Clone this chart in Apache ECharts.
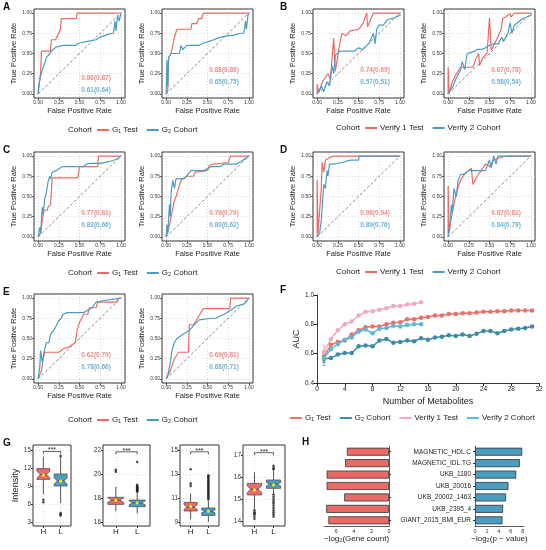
<!DOCTYPE html>
<html>
<head>
<meta charset="utf-8">
<script src="https://cdn.jsdelivr.net/npm/echarts@6/dist/echarts.min.js"></script>
<style>
html, body { margin: 0; padding: 0; background: #fff; }
#chart { width: 546px; height: 550px; }
</style>
</head>
<body>
<div id="chart"></div>
<script>
// ROC axes
const rocTicks = [0, 0.25, 0.5, 0.75, 1];
const diagonal = [[0, 0], [1, 1]];

// ROC curves [fpr, tpr]
const rocA1Red = [[0,0],[0.03,0.27],[0.04,0.53],[0.15,0.53],[0.16,0.67],[0.21,0.67],[0.24,0.73],[0.27,0.8],[0.28,0.93],[0.46,0.93],[0.47,1],[1,1]];
const rocA1Blue = [[0,0],[0.01,0.12],[0.03,0.22],[0.05,0.3],[0.08,0.38],[0.1,0.45],[0.14,0.5],[0.18,0.55],[0.22,0.58],[0.3,0.6],[0.45,0.6],[0.5,0.63],[0.6,0.65],[0.7,0.67],[0.75,0.7],[0.85,0.74],[0.91,0.75],[0.93,0.9],[0.94,0.78],[0.96,0.97],[0.98,0.9],[1,1]];
const rocA2Red = [[0,0],[0.02,0.05],[0.03,0.45],[0.06,0.5],[0.08,0.6],[0.1,0.7],[0.13,0.8],[0.3,0.8],[0.31,0.87],[0.37,0.87],[0.39,0.93],[0.43,0.93],[0.45,1],[1,1]];
const rocA2Blue = [[0,0],[0.01,0],[0.01,0.42],[0.02,0.1],[0.03,0.45],[0.06,0.5],[0.16,0.5],[0.18,0.6],[0.2,0.55],[0.25,0.6],[0.4,0.6],[0.45,0.63],[0.55,0.66],[0.65,0.7],[0.75,0.72],[0.8,0.72],[0.9,0.75],[0.94,0.75],[0.96,0.9],[0.97,0.8],[0.99,0.98],[1,1]];
const rocB1Red = [[0,0],[0,0.12],[0.02,0.02],[0.07,0.16],[0.13,0.25],[0.16,0.18],[0.2,0.69],[0.22,0.28],[0.27,0.6],[0.3,0.75],[0.35,0.72],[0.4,0.78],[0.5,0.8],[0.55,0.86],[0.6,1],[0.61,0.83],[0.68,1],[1,1]];
const rocB1Blue = [[0,0],[0.03,0.05],[0.05,0.1],[0.08,0.03],[0.12,0.15],[0.15,0.1],[0.18,0.35],[0.2,0.25],[0.22,0.48],[0.28,0.53],[0.45,0.53],[0.5,0.57],[0.55,0.55],[0.6,0.6],[0.63,0.63],[0.68,0.75],[0.7,0.62],[0.72,0.8],[0.75,0.85],[0.8,0.85],[0.85,0.92],[0.9,0.93],[1,0.97],[1,1]];
const rocB2Red = [[0,0],[0,0.33],[0.01,0],[0.05,0.15],[0.1,0.25],[0.15,0.33],[0.3,0.33],[0.33,0.42],[0.37,0.5],[0.38,0.35],[0.42,0.45],[0.47,0.5],[0.5,0.94],[0.52,0.54],[0.55,0.6],[0.6,0.7],[0.64,0.8],[0.66,0.93],[0.75,0.99],[0.76,0.95],[0.8,1],[1,1]];
const rocB2Blue = [[0,0],[0.03,0.05],[0.06,0.1],[0.1,0.2],[0.15,0.3],[0.17,0.4],[0.2,0.3],[0.23,0.5],[0.3,0.52],[0.35,0.55],[0.4,0.55],[0.45,0.57],[0.5,0.6],[0.55,0.62],[0.6,0.62],[0.65,0.7],[0.67,0.65],[0.72,0.75],[0.75,0.88],[0.77,0.75],[0.8,0.85],[0.9,0.93],[1,0.97],[1,1]];
const rocC1Red = [[0,0],[0.03,0.05],[0.05,0.2],[0.07,0.33],[0.11,0.33],[0.12,0.37],[0.15,0.4],[0.17,0.73],[0.48,0.73],[0.5,0.87],[0.72,0.87],[0.73,1],[1,1]];
const rocC1Blue = [[0,0],[0.02,0.12],[0.03,0.05],[0.05,0.37],[0.06,0.28],[0.08,0.47],[0.1,0.55],[0.12,0.68],[0.14,0.75],[0.15,0.72],[0.17,0.8],[0.22,0.82],[0.26,0.85],[0.3,0.87],[0.55,0.87],[0.58,0.9],[0.6,0.88],[0.62,0.91],[0.75,0.91],[0.85,0.93],[0.95,0.96],[1,1]];
const rocC2Red = [[0,0],[0.03,0.1],[0.05,0.2],[0.07,0.3],[0.1,0.45],[0.12,0.5],[0.15,0.6],[0.18,0.7],[0.25,0.75],[0.33,0.75],[0.35,0.8],[0.5,0.82],[0.52,0.88],[0.57,0.9],[0.75,0.92],[0.78,1],[1,1]];
const rocC2Blue = [[0,0],[0.01,0.15],[0.02,0.05],[0.04,0.4],[0.05,0.25],[0.06,0.55],[0.08,0.7],[0.1,0.6],[0.12,0.72],[0.22,0.72],[0.3,0.82],[0.45,0.82],[0.55,0.87],[0.65,0.87],[0.7,0.9],[0.85,0.9],[0.9,0.93],[1,1]];
const rocD1Red = [[0,0],[0,0.7],[0.01,0.05],[0.05,0.6],[0.06,0.92],[0.08,0.8],[0.1,0.95],[0.12,0.93],[0.15,0.98],[0.2,1],[1,1]];
const rocD1Blue = [[0,0],[0.03,0.05],[0.05,0.2],[0.07,0.5],[0.08,0.65],[0.1,0.6],[0.12,0.82],[0.13,0.75],[0.15,0.9],[0.2,0.9],[0.3,0.92],[0.4,0.95],[0.5,0.95],[0.51,1],[1,1]];
const rocD2Red = [[0,0],[0,0.63],[0.01,0.05],[0.05,0.3],[0.1,0.55],[0.15,0.7],[0.2,0.78],[0.28,0.85],[0.3,0.65],[0.35,0.75],[0.42,0.85],[0.45,0.9],[0.5,0.87],[0.55,0.95],[0.6,0.97],[0.7,1],[1,1]];
const rocD2Blue = [[0,0],[0.02,0.15],[0.04,0.4],[0.05,0.3],[0.07,0.6],[0.1,0.5],[0.12,0.7],[0.15,0.77],[0.2,0.78],[0.25,0.82],[0.45,0.82],[0.5,0.95],[0.52,0.85],[0.55,1],[0.58,0.9],[0.6,1],[1,1]];
const rocE1Red = [[0,0],[0.04,0.1],[0.06,0.25],[0.08,0.33],[0.25,0.33],[0.3,0.37],[0.38,0.4],[0.45,0.45],[0.47,0.6],[0.5,0.7],[0.55,0.8],[0.6,0.8],[0.62,0.88],[0.7,0.88],[0.72,0.95],[0.95,0.95],[0.97,1],[1,1]];
const rocE1Blue = [[0,0],[0.02,0.15],[0.03,0.35],[0.05,0.2],[0.07,0.33],[0.1,0.45],[0.13,0.45],[0.15,0.55],[0.2,0.62],[0.25,0.72],[0.28,0.75],[0.3,0.8],[0.35,0.82],[0.55,0.82],[0.6,0.85],[0.65,0.88],[0.7,0.95],[0.8,0.97],[1,1]];
const rocE2Red = [[0,0],[0.05,0.1],[0.1,0.25],[0.15,0.33],[0.27,0.33],[0.28,0.67],[0.33,0.67],[0.38,0.75],[0.45,0.87],[0.77,0.87],[0.78,1],[1,1]];
const rocE2Blue = [[0,0],[0.02,0.05],[0.05,0.2],[0.07,0.35],[0.1,0.45],[0.13,0.5],[0.2,0.55],[0.28,0.6],[0.35,0.68],[0.4,0.73],[0.55,0.75],[0.6,0.75],[0.7,0.8],[0.78,0.85],[0.85,0.9],[0.95,0.93],[1,1]];

// AUC text (red, blue)
const aucA1 = ['0.86(0.87)', '0.61(0.64)'];
const aucA2 = ['0.88(0.86)', '0.65(0.75)'];
const aucB1 = ['0.74(0.69)', '0.57(0.51)'];
const aucB2 = ['0.67(0.78)', '0.58(0.54)'];
const aucC1 = ['0.77(0.81)', '0.83(0.66)'];
const aucC2 = ['0.79(0.79)', '0.80(0.62)'];
const aucD1 = ['0.98(0.94)', '0.89(0.76)'];
const aucD2 = ['0.87(0.81)', '0.84(0.79)'];
const aucE1 = ['0.62(0.79)', '0.78(0.66)'];
const aucE2 = ['0.69(0.81)', '0.68(0.71)'];

// F: AUC vs number of metabolites
const metaboliteCount = [1,2,3,4,5,6,7,8,9,10,11,12,13,14,15,16,17,18,19,20,21,22,23,24,25,26,27,28,29,30,31];
const aucG1Test = [0.58,0.66,0.68,0.69,0.73,0.76,0.78,0.785,0.785,0.8,0.81,0.815,0.835,0.835,0.845,0.85,0.86,0.86,0.87,0.87,0.875,0.875,0.88,0.885,0.885,0.89,0.89,0.895,0.895,0.895,0.895];
const aucG2Cohort = [0.565,0.57,0.595,0.605,0.605,0.65,0.655,0.65,0.69,0.7,0.675,0.68,0.69,0.685,0.705,0.695,0.71,0.715,0.725,0.72,0.73,0.72,0.735,0.755,0.755,0.74,0.755,0.765,0.77,0.775,0.785];
const aucVerify1 = [0.61,0.7,0.76,0.8,0.82,0.86,0.885,0.89,0.9,0.91,0.925,0.925,0.935,0.94,0.95];
const aucVerify2 = [0.57,0.63,0.665,0.695,0.71,0.75,0.765,0.74,0.77,0.775,0.79,0.785,0.795,0.8,0.8];
const firstPointError = [[1,0.55,0.62],[1,0.54,0.6],[1,0.58,0.65],[1,0.52,0.62]];

// G: boxplots [low whisker, q1, median, q3, high whisker]
const boxH = [[7.6,10.1,10.9,11.9,13.9],[16.9,17.47,17.83,18.06,18.94],[9.22,9.92,10.25,10.64,11.37],[14.58,15.18,15.44,15.71,16.21]];
const boxL = [[6.15,9.0,9.85,11.0,13.9],[16.7,17.28,17.6,17.83,18.5],[9.0,9.55,9.89,10.17,10.8],[15.26,15.48,15.67,15.86,16.3]];
const meanH = [10.8, 17.8, 10.3, 15.41];
const meanL = [9.8, 17.6, 9.9, 15.64];
const notchH = [0.6, 0.2, 0.2, 0.15];
const notchL = [0.5, 0.15, 0.12, 0.08];
const outlierH = [[6.7,6.3],[20.2,20.35],[12.0,12.2,13.4],[14.5,14.4,14.35,14.3,14.2,14.1]];
const outlierL = [[4.5,4.3,4.1,14.0],[18.55,18.6,18.65,18.7,18.75,18.8,18.85,18.9,18.95,19.0,19.1,21.0],
  [10.9,11.0,11.1,11.2,11.3,11.4,11.5,11.6,11.7,11.8,11.9,12.0,12.1,12.2,12.3,12.4,12.5,12.6,12.7,12.8,12.9],
  [15.2,15.1,15.0,14.9,14.8,14.7,14.6,14.5,14.4,14.3,14.2,16.35,16.4,16.5]];
const bracketLevel = [14.75, 21.85, 14.85, 17.1];
const boxYTicks = [[3,6,9,12,15],[16,18,20,22],[9,11,13,15],[14,15,16,17]];
const boxYRange = [[2.33,15.83],[15.67,22.42],[8.67,15.42],[13.77,17.45]];

// H: trait enrichment
const traits = ['MAGNETIC_HDL.C','MAGNETIC_IDL.TG','UKB_1180','UKB_20016','UKB_20002_1463','UKB_2395_4','GIANT_2015_BMI_EUR'];
const geneCountLog = [4.8, 5.0, 7.1, 7.1, 5.1, 7.15, 6.9];
const pValueLog = [7.9, 7.5, 6.9, 5.6, 5.2, 4.7, 4.6];

const RED = '#EA6B66';
const BLUE = '#4A9CC0';
const FONT = '"Liberation Sans", Arial, sans-serif';
const GRIDLINE = { type: [1, 2], color: '#c4c4c4', width: 0.6 };

const chart = echarts.init(document.getElementById('chart'));
const grids = [], xAxes = [], yAxes = [], series = [], graphics = [];

function addGrid(g, x, y) {
    grids.push(g);
    const idx = grids.length - 1;
    x.gridIndex = idx; y.gridIndex = idx;
    xAxes.push(x); yAxes.push(y);
    return idx;
}

function rocAxis(name, gap) {
    return {
        type: 'value', min: -0.05, max: 1.05,
        axisLine: { show: false, onZero: false },
        axisTick: { show: true, customValues: rocTicks, length: 2, lineStyle: { color: '#333', width: 0.8 } },
        axisLabel: { customValues: rocTicks, formatter: v => v.toFixed(2), fontSize: 5, color: '#333', margin: 2 },
        splitLine: { show: true, lineStyle: GRIDLINE },
        name, nameLocation: 'middle', nameGap: gap,
        nameTextStyle: { fontSize: 7.5, color: '#222' }
    };
}

function rocPanel(left, top, red, blue, auc, textY) {
    const idx = addGrid(
        { left, top, width: 91, height: 89, show: true, borderColor: '#333', borderWidth: 1 },
        rocAxis('False Positive Rate', 9),
        rocAxis('True Positive Rate', 15)
    );
    series.push({ type: 'line', xAxisIndex: idx, yAxisIndex: idx, data: diagonal, symbol: 'none', silent: true,
        lineStyle: { color: '#555', width: 0.7, type: [3, 2] } });
    [red, blue].forEach((c, i) => {
        series.push({ type: 'line', xAxisIndex: idx, yAxisIndex: idx, data: c, symbol: 'none',
            lineStyle: { color: i ? BLUE : RED, width: 1.2 } });
    });
    auc.forEach((t, i) => {
        series.push({ type: 'scatter', xAxisIndex: idx, yAxisIndex: idx, symbolSize: 1, silent: true,
            itemStyle: { color: 'rgba(0,0,0,0)' }, data: [[0.7, textY[i]]],
            label: { show: true, position: 'inside', formatter: t, fontSize: 6.5, fontWeight: 'bold', color: i ? BLUE : RED } });
    });
}

rocPanel(34, 9, rocA1Red, rocA1Blue, aucA1, [0.19, 0.045]);
rocPanel(162, 9, rocA2Red, rocA2Blue, aucA2, [0.29, 0.145]);
rocPanel(313, 9, rocB1Red, rocB1Blue, aucB1, [0.29, 0.145]);
rocPanel(444, 9, rocB2Red, rocB2Blue, aucB2, [0.29, 0.145]);
rocPanel(34, 152, rocC1Red, rocC1Blue, aucC1, [0.29, 0.145]);
rocPanel(162, 152, rocC2Red, rocC2Blue, aucC2, [0.29, 0.145]);
rocPanel(313, 152, rocD1Red, rocD1Blue, aucD1, [0.29, 0.145]);
rocPanel(444, 152, rocD2Red, rocD2Blue, aucD2, [0.29, 0.145]);
rocPanel(34, 294, rocE1Red, rocE1Blue, aucE1, [0.29, 0.145]);
rocPanel(162, 294, rocE2Red, rocE2Blue, aucE2, [0.29, 0.145]);

// F panel
const fColors = ['#E8706A', '#3C8BA8', '#F2A8C0', '#5DB7D6'];
const fNames = ['G\u2081 Test', 'G\u2082 Cohort', 'Verify 1 Test', 'Verify 2 Cohort'];
const fIdx = addGrid(
    { left: 317, top: 295, width: 222, height: 88 },
    { type: 'value', min: 0, max: 32, interval: 4,
      axisLine: { lineStyle: { color: '#222', width: 0.9 } }, axisTick: { length: 3, lineStyle: { color: '#222' } },
      axisLabel: { fontSize: 6.5, color: '#222', margin: 3 }, splitLine: { show: false },
      name: 'Number of Metabolites', nameLocation: 'middle', nameGap: 14, nameTextStyle: { fontSize: 9, color: '#222' } },
    { type: 'value', min: 0.4, max: 1.0, interval: 0.2,
      axisLine: { show: true, onZero: false, lineStyle: { color: '#222', width: 0.9 } }, axisTick: { show: true, length: 3, lineStyle: { color: '#222' } },
      axisLabel: { fontSize: 6.5, color: '#222', margin: 3, formatter: v => v.toFixed(1) }, splitLine: { show: false },
      name: 'AUC', nameLocation: 'middle', nameGap: 16, nameTextStyle: { fontSize: 9, color: '#222' } }
);
[aucG1Test, aucG2Cohort, aucVerify1, aucVerify2].forEach((vals, i) => {
    series.push({ type: 'line', xAxisIndex: fIdx, yAxisIndex: fIdx, name: fNames[i],
        data: vals.map((v, k) => [metaboliteCount[k], v]),
        symbol: 'circle', symbolSize: 4.5, lineStyle: { color: fColors[i], width: 1.5 },
        itemStyle: { color: fColors[i] }, z: 3 + (i === 2 ? 0 : i) });
});
series.push({ type: 'custom', xAxisIndex: fIdx, yAxisIndex: fIdx, data: firstPointError.map((d, i) => d.concat(i)),
    encode: { x: 0, y: [1, 2] },
    renderItem: (params, api) => {
        const lo = api.coord([api.value(0), api.value(1)]);
        const hi = api.coord([api.value(0), api.value(2)]);
        const col = fColors[api.value(3)];
        return { type: 'group', children: [
            { type: 'line', shape: { x1: lo[0], y1: lo[1], x2: hi[0], y2: hi[1] }, style: { stroke: col, lineWidth: 1 } },
            { type: 'line', shape: { x1: lo[0] - 1.5, y1: lo[1], x2: lo[0] + 1.5, y2: lo[1] }, style: { stroke: col, lineWidth: 1 } },
            { type: 'line', shape: { x1: hi[0] - 1.5, y1: hi[1], x2: hi[0] + 1.5, y2: hi[1] }, style: { stroke: col, lineWidth: 1 } }
        ] };
    } });

// G panel: notched boxplots
const boxFrames = [[33, 38], [103, 47], [180, 39], [243, 42]];
function renderBox(params, api) {
    const x = api.value(0);
    const hw = api.size([0.375, 0])[0];
    const pt = v => api.coord([x, v]);
    const lo = pt(api.value(1))[1], q1 = pt(api.value(2))[1], medP = pt(api.value(3)), q3 = pt(api.value(4))[1], hi = pt(api.value(5))[1];
    const notch = api.value(6);
    const nl = pt(api.value(3) - notch)[1], nh = pt(api.value(3) + notch)[1];
    const m = pt(api.value(7));
    const cx = medP[0], my = medP[1];
    const fill = x === 1 ? RED : BLUE;
    const poly = [[cx - hw, q1], [cx - hw, nl], [cx - hw * 0.5, my], [cx - hw, nh], [cx - hw, q3],
        [cx + hw, q3], [cx + hw, nh], [cx + hw * 0.5, my], [cx + hw, nl], [cx + hw, q1]];
    return { type: 'group', children: [
        { type: 'line', shape: { x1: cx, y1: lo, x2: cx, y2: q1 }, style: { stroke: '#555', lineWidth: 1 } },
        { type: 'line', shape: { x1: cx, y1: q3, x2: cx, y2: hi }, style: { stroke: '#555', lineWidth: 1 } },
        { type: 'polygon', shape: { points: poly }, style: { fill, stroke: '#555', lineWidth: 0.8 } },
        { type: 'line', shape: { x1: cx - hw * 0.5, y1: my, x2: cx + hw * 0.5, y2: my }, style: { stroke: '#555', lineWidth: 1 } },
        { type: 'circle', shape: { cx: m[0], cy: m[1], r: 1.6 }, style: { fill: '#EEEE10' } }
    ] };
}
function renderBracket(params, api) {
    const a = api.coord([1, api.value(0)]);
    const b = api.coord([2, api.value(0)]);
    return { type: 'group', children: [
        { type: 'polyline', shape: { points: [[a[0], a[1] + 2.5], a, b, [b[0], b[1] + 2.5]] }, style: { stroke: '#222', lineWidth: 0.7, fill: null } },
        { type: 'text', x: (a[0] + b[0]) / 2, y: a[1] + 2.5, style: { text: '***', fontSize: 7, fill: '#222', align: 'center', verticalAlign: 'bottom', fontFamily: FONT } }
    ] };
}
boxFrames.forEach((f, p) => {
    const idx = addGrid(
        { left: f[0], top: 445, width: f[1], height: 81, show: true, borderColor: '#333', borderWidth: 1 },
        { type: 'value', min: 0.4, max: 2.6,
          axisLine: { show: false, onZero: false },
          axisTick: { customValues: [1, 2], length: 2, lineStyle: { color: '#333' } },
          axisLabel: { customValues: [1, 2], formatter: v => (v === 1 ? 'H' : 'L'), fontSize: 8, color: '#222', margin: 2 },
          splitLine: { show: true, lineStyle: GRIDLINE } },
        { type: 'value', min: boxYRange[p][0], max: boxYRange[p][1],
          axisLine: { show: false, onZero: false },
          axisTick: { customValues: boxYTicks[p], length: 2, lineStyle: { color: '#333' } },
          axisLabel: { customValues: boxYTicks[p], fontSize: 6.5, color: '#333', margin: 2 },
          splitLine: { show: true, lineStyle: GRIDLINE },
          name: p === 0 ? 'Intensity' : '', nameLocation: 'middle', nameGap: 13, nameTextStyle: { fontSize: 9, color: '#222' } }
    );
    series.push({ type: 'custom', xAxisIndex: idx, yAxisIndex: idx, renderItem: renderBox,
        encode: { x: 0, y: [1, 2, 3, 4, 5] },
        data: [[1].concat(boxH[p], notchH[p], meanH[p]), [2].concat(boxL[p], notchL[p], meanL[p])] });
    series.push({ type: 'scatter', xAxisIndex: idx, yAxisIndex: idx, symbolSize: 2.6, itemStyle: { color: '#222' },
        data: outlierH[p].map(v => [1, v]).concat(outlierL[p].map(v => [2, v])) });
    series.push({ type: 'custom', xAxisIndex: idx, yAxisIndex: idx, renderItem: renderBracket,
        encode: { y: 0 }, data: [[bracketLevel[p]]] });
});

// H panel: mirrored bars
const hLeft = addGrid(
    { left: 324, top: 446, width: 65, height: 80 },
    { type: 'value', min: 0, max: 7.4, interval: 2, inverse: true,
      axisLine: { show: true, lineStyle: { color: '#333', width: 0.8 } }, axisTick: { length: 2, lineStyle: { color: '#333' } },
      axisLabel: { fontSize: 5.5, color: '#333', margin: 2, showMaxLabel: false }, splitLine: { show: false },
      name: '\u2212log\u2082(Gene count)', nameLocation: 'middle', nameGap: 8, nameTextStyle: { fontSize: 8, color: '#222' } },
    { type: 'category', data: traits, inverse: true, position: 'right',
      axisLine: { show: true, lineStyle: { color: '#333', width: 0.8 } },
      axisTick: { show: true, alignWithLabel: true, length: 2, lineStyle: { color: '#333' } },
      axisLabel: { show: false } }
);
const hRight = addGrid(
    { left: 475, top: 446, width: 49, height: 80 },
    { type: 'value', min: 0, max: 8.2, interval: 2,
      axisLine: { show: true, lineStyle: { color: '#333', width: 0.8 } }, axisTick: { length: 2, lineStyle: { color: '#333' } },
      axisLabel: { fontSize: 5.5, color: '#333', margin: 2, showMaxLabel: false }, splitLine: { show: false },
      name: '\u2212log\u2082(p \u2212 value)', nameLocation: 'middle', nameGap: 8, nameTextStyle: { fontSize: 8, color: '#222' } },
    { type: 'category', data: traits, inverse: true,
      axisLine: { show: true, lineStyle: { color: '#333', width: 0.8 } },
      axisTick: { show: true, alignWithLabel: true, length: 2, lineStyle: { color: '#333' } },
      axisLabel: { fontSize: 6.5, color: '#222', margin: 4 } }
);
series.push({ type: 'bar', xAxisIndex: hLeft, yAxisIndex: hLeft, data: geneCountLog, barWidth: 8,
    itemStyle: { color: RED, borderColor: '#333', borderWidth: 0.8 } });
series.push({ type: 'bar', xAxisIndex: hRight, yAxisIndex: hRight, data: pValueLog, barWidth: 8,
    itemStyle: { color: BLUE, borderColor: '#333', borderWidth: 0.8 } });

// legends and panel letters
const measureCtx = document.createElement('canvas').getContext('2d');
function textWidth(t, size) {
    measureCtx.font = size + 'px ' + FONT;
    return measureCtx.measureText(t).width;
}
function legendRow(x, y, items, withTitle) {
    const fs = 8;
    let cx = x;
    if (withTitle) {
        graphics.push({ type: 'text', x: cx, y, style: { text: 'Cohort', fontSize: fs, fontFamily: FONT, fill: '#222', verticalAlign: 'middle' } });
        cx += textWidth('Cohort', fs) + 5;
    }
    items.forEach(it => {
        graphics.push({ type: 'line', shape: { x1: cx, y1: y, x2: cx + 12, y2: y }, style: { stroke: it[1], lineWidth: 2 } });
        cx += 15;
        graphics.push({ type: 'text', x: cx, y, style: { text: it[0], fontSize: fs, fontFamily: FONT, fill: '#222', verticalAlign: 'middle' } });
        cx += textWidth(it[0], fs) + 9;
    });
}
const gItems = [['G\u2081 Test', RED], ['G\u2082 Cohort', BLUE]];
const vItems = [['Verify 1 Test', RED], ['Verify 2 Cohort', BLUE]];
legendRow(68, 130, gItems, true);
legendRow(336, 128, vItems, true);
legendRow(68, 273, gItems, true);
legendRow(336, 272, vItems, true);
legendRow(68, 420, gItems, true);
legendRow(290, 418, fNames.map((n, i) => [n, fColors[i]]), false);

[['A', 3, 7], ['B', 280, 7], ['C', 3, 150], ['D', 280, 150], ['E', 3, 292], ['F', 280, 290], ['G', 3, 443], ['H', 302, 442]]
    .forEach(l => graphics.push({ type: 'text', x: l[1], y: l[2],
        style: { text: l[0], fontSize: 10, fontWeight: 'bold', fontFamily: FONT, fill: '#111', verticalAlign: 'middle' } }));

chart.setOption({
    animation: false,
    backgroundColor: '#fff',
    textStyle: { fontFamily: FONT },
    grid: grids,
    xAxis: xAxes,
    yAxis: yAxes,
    series,
    graphic: graphics
});
</script>
</body>
</html>
